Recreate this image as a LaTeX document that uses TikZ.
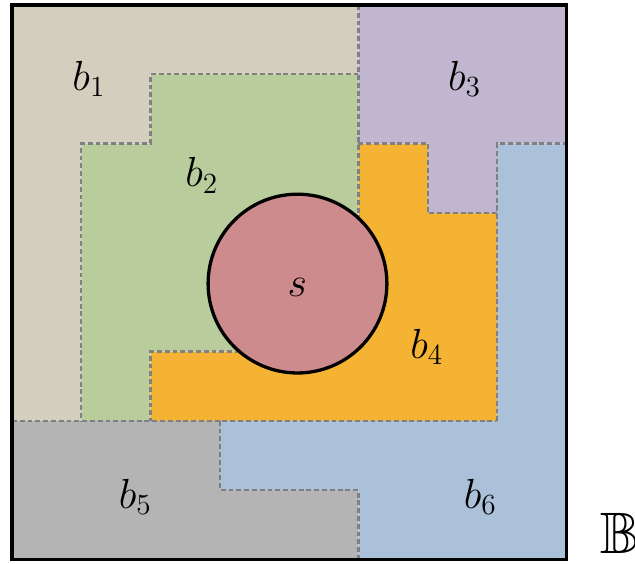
\documentclass[tikz,border=0pt]{standalone}
\usepackage{amssymb}
\definecolor{cbeige}{RGB}{212,206,190}
\definecolor{cgreen}{RGB}{184,204,156}
\definecolor{cpurple}{RGB}{192,182,208}
\definecolor{corange}{RGB}{245,179,52}
\definecolor{cblue}{RGB}{170,193,217}
\definecolor{cgray}{RGB}{180,180,181}
\definecolor{ccircle}{RGB}{206,139,142}
\definecolor{cdash}{RGB}{128,128,132}
\tikzset{
  bnd/.style={draw=cdash, line width=0.95pt, dash pattern=on 2pt off 1.2pt},
  lbl/.style={anchor=base west, inner sep=0pt, font=\fontsize{18}{21}\selectfont}
}
\begin{document}
\begin{tikzpicture}[x=1cm,y=1cm]
\useasboundingbox (-0.173,-0.052) rectangle (8.99,8.072);
% regions
\fill[cbeige] (0,8) -- (5,8) -- (5,7) -- (2,7) -- (2,6) -- (1,6) -- (1,2) -- (0,2) -- cycle;
\fill[corange] (5,6) -- (6,6) -- (6,5) -- (7,5) -- (7,2) -- (2,2) -- (2,3) -- (3.5,3) -- (5,4.5) -- cycle;
\fill[cgreen] (1,6) -- (2,6) -- (2,7) -- (5,7) -- (5,4.5) -- (3.5,3) -- (2,3) -- (2,2) -- (1,2) -- cycle;
\fill[cpurple] (5,8) -- (8,8) -- (8,6) -- (7,6) -- (7,5) -- (6,5) -- (6,6) -- (5,6) -- cycle;
\fill[cblue] (7,6) -- (8,6) -- (8,0) -- (5,0) -- (5,1) -- (3,1) -- (3,2) -- (7,2) -- cycle;
\fill[cgray] (0,2) -- (3,2) -- (3,1) -- (5,1) -- (5,0) -- (0,0) -- cycle;
% dashed boundaries
\draw[bnd] (5,8) -- (5,4.8);
\draw[bnd] (5,7) -- (2,7) -- (2,6) -- (1,6) -- (1,2);
\draw[bnd] (5,6) -- (6,6) -- (6,5) -- (7,5) -- (7,6) -- (8,6);
\draw[bnd] (7,6) -- (7,2);
\draw[bnd] (3.4,3) -- (2,3) -- (2,2);
\draw[bnd] (0,2) -- (7,2);
\draw[bnd] (3,2) -- (3,1) -- (5,1) -- (5,0);
% circle s
\node[circle, draw=black, line width=1.35pt, fill=ccircle, minimum size=2.58cm, inner sep=0pt] (s) at (4.12,3.98) {};
\node[lbl] (ls) at (3.97,3.791) {$s$};
% outer border
\draw[line width=1.35pt] (0,0) rectangle (8,8);
% labels
\node[lbl] (l1) at (0.866,6.773) {$b_1$};
\node[lbl] (l2) at (2.496,5.378) {$b_2$};
\node[lbl] (l3) at (6.287,6.773) {$b_3$};
\node[lbl] (l4) at (5.743,2.902) {$b_4$};
\node[lbl] (l5) at (1.534,0.737) {$b_5$};
\node[lbl] (l6) at (6.513,0.737) {$b_6$};
\node[lbl, font=\fontsize{24}{28}\selectfont] (lB) at (8.48,0.088) {$\mathbb{B}$};
\end{tikzpicture}
\end{document}
